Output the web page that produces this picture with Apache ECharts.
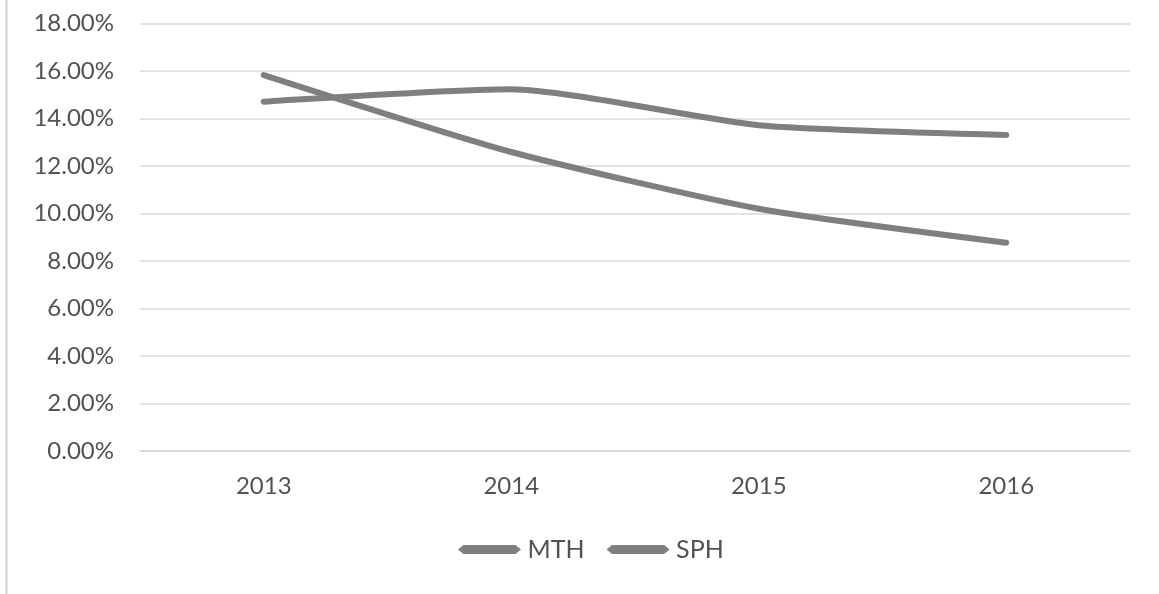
<!DOCTYPE html>
<html>
<head>
<meta charset="utf-8">
<script src="https://cdn.jsdelivr.net/npm/echarts@6/dist/echarts.min.js"></script>
<style>
  html, body { margin: 0; padding: 0; background: #fff; }
  #chart { width: 1159px; height: 594px; }
</style>
</head>
<body>
<div id="chart"></div>
<script>
// Years on the category axis
const years = ['2013', '2014', '2015', '2016'];
// Ratios per year, in percent
const mth = [15.83, 12.59, 10.20, 8.77];
const sph = [14.71, 15.23, 13.72, 13.31];
// Value axis range
const yMin = 0;
const yMax = 18;
const yStep = 2;

const lineColor = '#7f7f7f';
const textColor = '#525252';
const gridColor = '#d9d9d9';
const font = 'Lato, "Open Sans", sans-serif';

const legendIcon = 'path://M0,5 L6,0 L64,0 L70,5 L64,10 L6,10 Z';

const chart = echarts.init(document.getElementById('chart'), null, { renderer: 'canvas' });

chart.setOption({
  animation: false,
  backgroundColor: '#ffffff',
  textStyle: { fontFamily: font },
  graphic: [{
    type: 'line',
    shape: { x1: 6.5, y1: 0, x2: 6.5, y2: 594 },
    style: { stroke: '#d0d0d0', lineWidth: 2 }
  }],
  grid: { left: 140, right: 29, top: 23.5, bottom: 143, containLabel: false },
  legend: {
    bottom: 27,
    left: 453,
    itemWidth: 70,
    itemHeight: 9,
    itemGap: 22,
    icon: legendIcon,
    textStyle: { color: textColor, fontSize: 25, fontFamily: font, padding: [0, 0, 0, -2] },
    data: ['MTH', 'SPH']
  },
  xAxis: {
    type: 'category',
    data: years,
    boundaryGap: true,
    axisLine: { show: true, lineStyle: { color: gridColor, width: 1.5 } },
    axisTick: { show: false },
    axisLabel: { color: textColor, fontSize: 24, margin: 23, fontFamily: font }
  },
  yAxis: {
    type: 'value',
    min: yMin,
    max: yMax,
    interval: yStep,
    axisLine: { show: false },
    axisTick: { show: false },
    splitLine: { lineStyle: { color: gridColor, width: 1.5 } },
    axisLabel: {
      color: textColor,
      fontSize: 24,
      margin: 26,
      fontFamily: font,
      formatter: v => v.toFixed(2) + '%'
    }
  },
  series: [
    {
      name: 'MTH',
      type: 'line',
      data: mth,
      smooth: 0.2,
      showSymbol: false,
      lineStyle: { color: lineColor, width: 6, cap: 'round', join: 'round' },
      itemStyle: { color: lineColor }
    },
    {
      name: 'SPH',
      type: 'line',
      data: sph,
      smooth: 0.2,
      showSymbol: false,
      lineStyle: { color: lineColor, width: 6, cap: 'round', join: 'round' },
      itemStyle: { color: lineColor }
    }
  ]
});
</script>
</body>
</html>
